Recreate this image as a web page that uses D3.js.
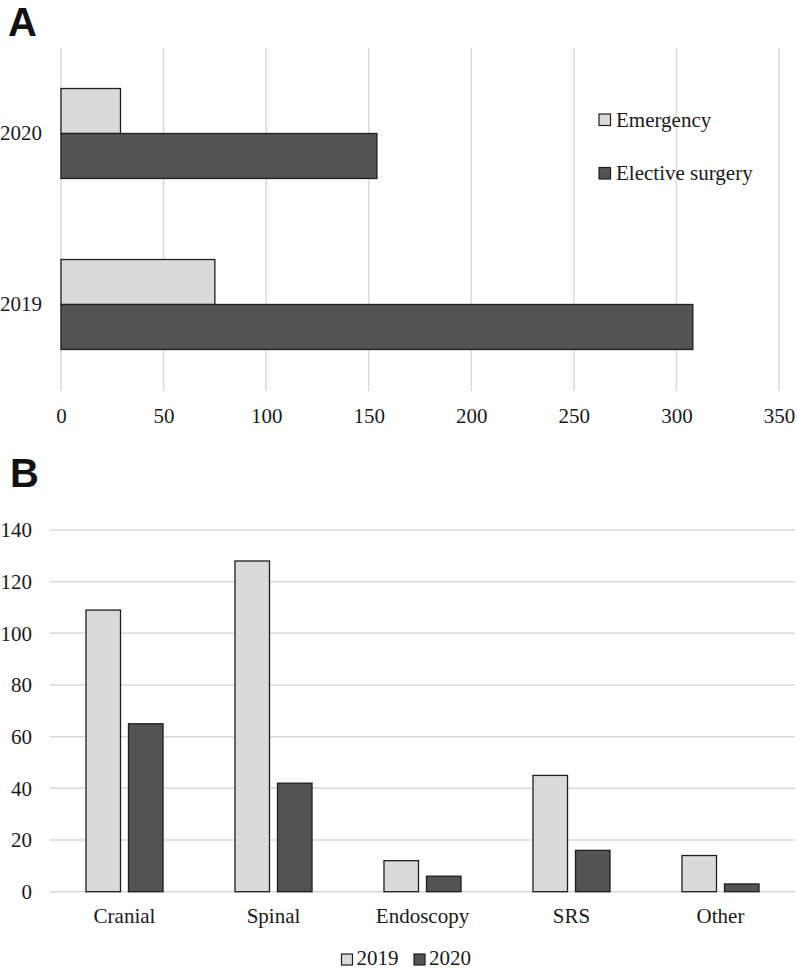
<!DOCTYPE html>
<html>
<head>
<meta charset="utf-8">
<script src="https://cdn.jsdelivr.net/npm/d3@7"></script>
<style>
  html, body { margin: 0; padding: 0; background: #fff; }
  svg { display: block; }
  text { font-family: "Liberation Serif", "Times New Roman", serif; fill: #1a1a1a; }
  .panel { font-family: "Liberation Sans", Arial, sans-serif; font-weight: bold; fill: #111; }
</style>
</head>
<body>
<script>
// ---- Data: panel A ----
const yearsA = ["2020", "2019"];
const seriesA = ["Emergency", "Elective surgery"];
const emergencyA = [29, 75];
const electiveA = [154, 308];
const xTicksA = [0, 50, 100, 150, 200, 250, 300, 350];

// ---- Data: panel B ----
const categoriesB = ["Cranial", "Spinal", "Endoscopy", "SRS", "Other"];
const seriesB = ["2019", "2020"];
const values2019 = [109, 128, 12, 45, 14];
const values2020 = [65, 42, 6, 16, 3];
const yTicksB = [0, 20, 40, 60, 80, 100, 120, 140];

const LIGHT = "#dadada", DARK = "#535353", STROKE = "#1e1e1e", GRID = "#d9d9d9";
const colorA = d3.scaleOrdinal().domain(seriesA).range([LIGHT, DARK]);
const colorB = d3.scaleOrdinal().domain(seriesB).range([LIGHT, DARK]);

const svg = d3.select("body").append("svg").attr("width", 797).attr("height", 969);

// ================= Panel A =================
svg.append("text").attr("class", "panel").attr("x", 8).attr("y", 36)
  .style("font-size", "40px").text("A");

const xA = d3.scaleLinear().domain([0, 350]).range([61, 779]);
const yA = d3.scaleBand().domain(yearsA).range([48, 390]).paddingInner(0.474).paddingOuter(0.237);
const yAin = d3.scaleBand().domain(seriesA).range([0, yA.bandwidth()]).padding(0);

const gA = svg.append("g");
gA.selectAll("line.grid").data(xTicksA).join("line")
  .attr("x1", d => xA(d)).attr("x2", d => xA(d))
  .attr("y1", 48).attr("y2", 391)
  .attr("stroke", GRID).attr("stroke-width", 1.5);

const dataA = yearsA.map((y, i) => ({ year: y, vals: [
  { s: seriesA[0], v: emergencyA[i] }, { s: seriesA[1], v: electiveA[i] } ] }));

const grpA = gA.selectAll("g.grp").data(dataA).join("g")
  .attr("transform", d => `translate(0,${yA(d.year)})`);
grpA.selectAll("rect").data(d => d.vals).join("rect")
  .attr("x", xA(0)).attr("y", d => yAin(d.s))
  .attr("width", d => xA(d.v) - xA(0)).attr("height", yAin.bandwidth())
  .attr("fill", d => colorA(d.s)).attr("stroke", STROKE).attr("stroke-width", 1.3);

// x axis labels
const axA = svg.append("g").attr("transform", "translate(0,415)")
  .call(d3.axisBottom(xA).tickValues(xTicksA).tickSize(0).tickPadding(0));
axA.select(".domain").remove();
axA.selectAll("text").style("font-size", "21px").attr("font-family", null).attr("fill", "#1a1a1a").attr("dy", "0.4em");

// y axis labels
const ayA = svg.append("g").attr("transform", "translate(42,0)")
  .call(d3.axisLeft(yA).tickSize(0).tickPadding(0));
ayA.select(".domain").remove();
ayA.selectAll("text").style("font-size", "21px").attr("font-family", null).attr("fill", "#1a1a1a").attr("dy", "0.33em");

// legend A
const legA = svg.append("g").selectAll("g").data(seriesA).join("g")
  .attr("transform", (d, i) => `translate(599,${114 + i * 53.5})`);
legA.append("rect").attr("width", 11.5).attr("height", 11.5)
  .attr("fill", d => colorA(d)).attr("stroke", STROKE).attr("stroke-width", 1.2);
legA.append("text").attr("x", 17).attr("y", 12.5).style("font-size", "21px").text(d => d);

// ================= Panel B =================
svg.append("text").attr("class", "panel").attr("x", 10).attr("y", 487)
  .style("font-size", "40px").text("B");

const xB = d3.scaleBand().domain(categoriesB).range([50, 795]).paddingInner(0.483).paddingOuter(0.2415);
const xBin = d3.scaleBand().domain(seriesB).range([0, xB.bandwidth()]).paddingInner(0.188).paddingOuter(0);
const yB = d3.scaleLinear().domain([0, 140]).range([891.7, 530]);

const gB = svg.append("g");
gB.selectAll("line.grid").data(yTicksB).join("line")
  .attr("x1", 50).attr("x2", 795)
  .attr("y1", d => yB(d)).attr("y2", d => yB(d))
  .attr("stroke", GRID).attr("stroke-width", 1.5);

const dataB = categoriesB.map((c, i) => ({ cat: c, vals: [
  { s: seriesB[0], v: values2019[i] }, { s: seriesB[1], v: values2020[i] } ] }));

const grpB = gB.selectAll("g.grp").data(dataB).join("g")
  .attr("transform", d => `translate(${xB(d.cat)},0)`);
grpB.selectAll("rect").data(d => d.vals).join("rect")
  .attr("x", d => xBin(d.s)).attr("y", d => yB(d.v))
  .attr("width", xBin.bandwidth()).attr("height", d => yB(0) - yB(d.v))
  .attr("fill", d => colorB(d.s)).attr("stroke", STROKE).attr("stroke-width", 1.3);

// y axis labels B
const ayB = svg.append("g").attr("transform", "translate(32,0)")
  .call(d3.axisLeft(yB).tickValues(yTicksB).tickSize(0).tickPadding(0));
ayB.select(".domain").remove();
ayB.selectAll("text").style("font-size", "21px").attr("font-family", null).attr("fill", "#1a1a1a").attr("dy", "0.33em");

// x axis labels B
const axB = svg.append("g").attr("transform", "translate(0,909)")
  .call(d3.axisBottom(xB).tickSize(0).tickPadding(0));
axB.select(".domain").remove();
axB.selectAll("text").style("font-size", "21px").attr("font-family", null).attr("fill", "#1a1a1a").attr("dy", "0.68em");

// legend B
const legB = svg.append("g").selectAll("g").data(seriesB).join("g")
  .attr("transform", (d, i) => `translate(${341.5 + i * 72.5},954)`);
legB.append("rect").attr("width", 11).attr("height", 11)
  .attr("fill", d => colorB(d)).attr("stroke", STROKE).attr("stroke-width", 1.2);
legB.append("text").attr("x", 15).attr("y", 11).style("font-size", "21px").text(d => d);
</script>
</body>
</html>
